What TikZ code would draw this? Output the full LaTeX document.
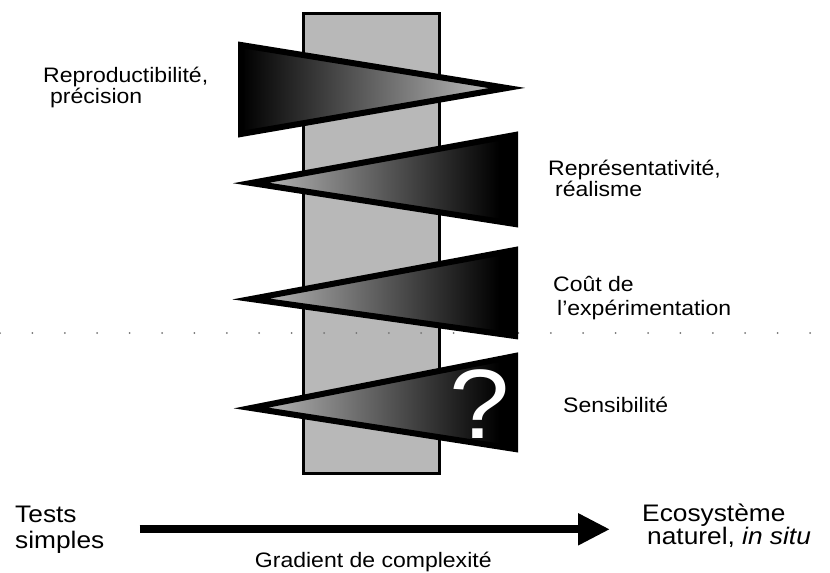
\documentclass[tikz,border=0pt]{standalone}
\usepackage{fontspec}
\setmainfont[FakeStretch=1.1]{Liberation Sans}
\usetikzlibrary{arrows.meta,positioning}

\pgfdeclarehorizontalshading{darkleft}{100bp}{color(0bp)=(black); color(25bp)=(black); color(70bp)=(black!30); color(100bp)=(black!30)}
\pgfdeclarehorizontalshading{darkright}{100bp}{color(0bp)=(black!30); color(28bp)=(black!30); color(72bp)=(black); color(100bp)=(black)}

\begin{document}
\begin{tikzpicture}[x=1bp,y=-1bp,
    crit/.style={anchor=base west,align=left,inner sep=0pt,font=\fontsize{21}{22}\selectfont},
    pole/.style={anchor=base west,align=left,inner sep=0pt,font=\fontsize{24}{26}\selectfont},
    wedge/.style={draw=black,line width=6bp,line join=miter},
    dotrow/.style={black!55,line width=2bp,line cap=round,dash pattern=on 0bp off 32.4bp}]
  \useasboundingbox (0,0) rectangle (830,573);

  % colonne
  \draw[line width=3bp,fill=black!28] (303.5,13.5) rectangle (439.5,473.5);
  \draw[dotrow] (0,333) -- (830,333);

  % coins
  \shade[wedge,shading=darkleft] (241,45) -- (507,88) -- (241,134) -- cycle;
  \shade[wedge,shading=darkright] (251,183) -- (515,135) -- (515,224) -- cycle;
  \shade[wedge,shading=darkright] (251,299) -- (515,250) -- (515,336) -- cycle;
  \shade[wedge,shading=darkright] (251,408) -- (515,356) -- (515,449) -- cycle;

  % base = derniere ligne
  \node[crit] (repro) at (43,104) {Reproductibilité,\\\hspace*{7bp}précision};
  \node[crit] (repre) at (548,197) {Représentativité,\\\hspace*{7bp}réalisme};
  \node[crit] (cout) at (553,315) {Coût de\\[2bp]\hspace*{4bp}l'expérimentation};
  \node[crit] (sensib) at (563,412) {Sensibilité};
  \node[font=\fontsize{99}{99}\selectfont,text=white,inner sep=0pt] (q) at (480,404) {?};

  \node[pole] (tests) at (15,548) {Tests\\simples};
  \node[pole] (eco) at (642,544) {Ecosystème\\[-3bp]\hspace*{5bp}naturel, \textit{in situ}};

  \draw[line width=8bp,-{Triangle[length=32bp,width=30bp]},shorten <=35bp,shorten >=32bp]
    (tests.east) -- (tests.east -| eco.west)
    node[midway,below=19bp,font=\fontsize{21}{22}\selectfont,inner sep=0pt] (grad) {Gradient de complexité};
\end{tikzpicture}
\end{document}
